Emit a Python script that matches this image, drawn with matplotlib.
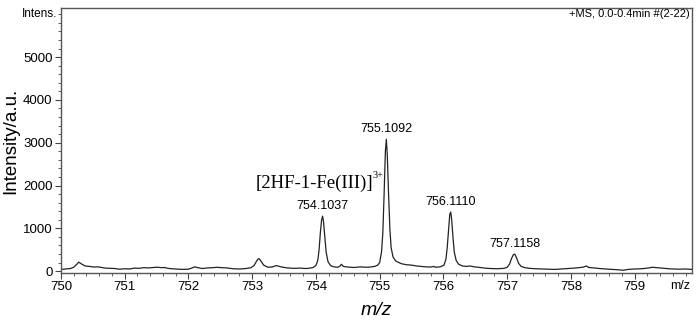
import numpy as np
import matplotlib.pyplot as plt
from matplotlib.ticker import MultipleLocator

# Spectrum (m/z, intensity)
mz = [750.00, 750.05, 750.10, 750.15, 750.20, 750.25, 750.28, 750.32, 750.38, 750.45,
      750.52, 750.58, 750.62, 750.70, 750.78, 750.85, 750.92, 751.00, 751.08, 751.15,
      751.22, 751.30, 751.38, 751.45, 751.52, 751.58, 751.62, 751.70, 751.80, 751.90,
      752.00, 752.05, 752.10, 752.15, 752.22, 752.30, 752.38, 752.45, 752.52, 752.60,
      752.70, 752.80, 752.90, 752.98, 753.03, 753.06, 753.09, 753.11, 753.14, 753.18,
      753.25, 753.32, 753.38, 753.45, 753.55, 753.65, 753.75, 753.85, 753.95,
      754.00, 754.03, 754.05, 754.07, 754.09, 754.105, 754.12, 754.14, 754.16, 754.19,
      754.23, 754.28, 754.34, 754.38, 754.40, 754.43, 754.50, 754.60, 754.70, 754.78,
      754.85, 754.92, 754.97,
      755.00, 755.03, 755.05, 755.07, 755.09, 755.105, 755.12, 755.14, 755.16, 755.18,
      755.21, 755.25, 755.30, 755.35, 755.42, 755.50, 755.58, 755.65, 755.72, 755.80,
      755.85, 755.88, 755.95,
      756.01, 756.04, 756.06, 756.08, 756.10, 756.115, 756.13, 756.15, 756.17, 756.20,
      756.24, 756.30, 756.36, 756.42, 756.48, 756.55, 756.65, 756.75, 756.85, 756.95,
      757.00, 757.04, 757.07, 757.10, 757.12, 757.15, 757.18, 757.22, 757.28, 757.35,
      757.45, 757.55, 757.65, 757.75, 757.85, 757.95, 758.05, 758.12, 758.20, 758.24,
      758.28, 758.36, 758.45, 758.55, 758.65, 758.75, 758.82, 758.90, 759.00, 759.10,
      759.20, 759.28, 759.35, 759.42, 759.50, 759.60, 759.70, 759.80, 759.90]
intensity = [40, 45, 55, 60, 90, 160, 210, 170, 120, 110,
             95, 100, 90, 70, 65, 60, 45, 55, 50, 70,
             65, 80, 75, 85, 90, 80, 85, 60, 50, 40,
             45, 70, 100, 80, 60, 75, 80, 90, 80, 75,
             55, 50, 60, 80, 130, 210, 280, 290, 230, 140,
             90, 100, 130, 100, 75, 65, 70, 60, 80,
             130, 250, 500, 900, 1200, 1285, 1150, 800, 450, 220,
             130, 100, 90, 120, 160, 110, 95, 85, 100, 90,
             95, 110, 140,
             200, 450, 900, 1800, 2800, 3080, 2700, 1800, 1000, 550,
             330, 240, 200, 170, 150, 140, 120, 110, 100, 95,
             110, 90, 100,
             140, 280, 550, 950, 1330, 1380, 1200, 800, 450, 250,
             160, 120, 110, 120, 100, 90, 70, 60, 55, 65,
             90, 170, 300, 390, 395, 300, 180, 110, 80, 65,
             55, 50, 45, 40, 50, 60, 70, 80, 95, 120,
             85, 75, 60, 50, 40, 30, 20, 40, 50, 55,
             70, 90, 80, 70, 60, 50, 45, 50, 40]

peak_mz = [754.1037, 755.1092, 756.1110, 757.1158]
peak_int = [1285, 3080, 1380, 400]
peak_labels = ['754.1037', '755.1092', '756.1110', '757.1158']

xticks = [750, 751, 752, 753, 754, 755, 756, 757, 758, 759]
yticks = [0, 1000, 2000, 3000, 4000, 5000]

plt.rcParams['font.family'] = ['Liberation Sans', 'DejaVu Sans']

fig = plt.figure(figsize=(7, 3.24), dpi=100)
ax = fig.add_axes([0.087, 0.157, 0.9016, 0.818])

ax.plot(mz, intensity, color='#222222', linewidth=0.9)

ax.set_xlim(750, 759.9)
ax.set_ylim(-47, 6145)
ax.set_xticks(xticks)
ax.set_yticks(yticks)
ax.xaxis.set_minor_locator(MultipleLocator(0.2))
ax.yaxis.set_minor_locator(MultipleLocator(200))
ax.tick_params(labelsize=9.5, length=4, width=0.8, color='#444444', direction='out', pad=2)
ax.tick_params(which='minor', length=2.5, width=0.6, color='#444444')
for s in ax.spines.values():
    s.set_color('#555555')
    s.set_linewidth(1.0)

# peak labels
for x, y, lab in zip(peak_mz, peak_int, peak_labels):
    ax.annotate(lab, (x, y), xytext=(0, 3), textcoords='offset points',
                ha='center', va='bottom', fontsize=9)

# ion annotation
ax.text(753.98, 2050, '[2HF-1-Fe(III)]', family='Liberation Serif',
        fontsize=13.5, ha='center', va='center')
ax.text(754.89, 2230, '3+', family='Liberation Serif', fontsize=7.5,
        ha='left', va='center')

ax.text(-0.005, 6000, 'Intens.', transform=ax.get_yaxis_transform(),
        ha='right', va='center', fontsize=8.5)
ax.text(0.997, 0.995, '+MS, 0.0-0.4min #(2-22)', transform=ax.transAxes,
        ha='right', va='top', fontsize=8)
ax.text(759.72, -200, 'm/z', ha='center', va='top', fontsize=9)

ax.set_ylabel('Intensity/a.u.', fontsize=13.5, labelpad=3)
ax.set_xlabel('m/z', fontsize=14, style='italic', labelpad=6)

fig.savefig('out.png', dpi=100)
